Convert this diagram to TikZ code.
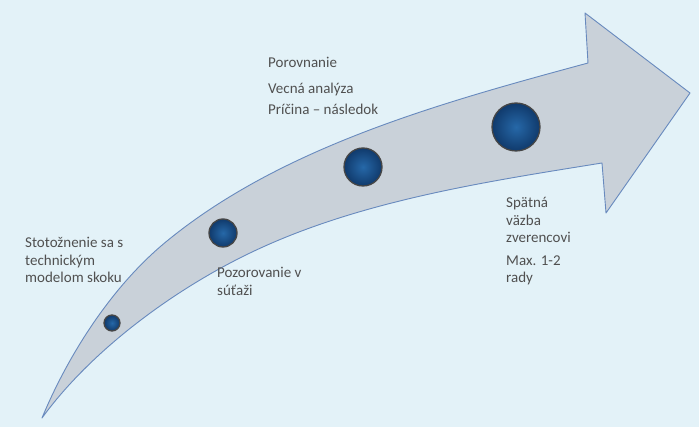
\documentclass[tikz,border=0pt]{standalone}
\usepackage{fontspec}
\setmainfont{Carlito}
\usepackage{tikz}
\usetikzlibrary{positioning}
\definecolor{bgblue}{RGB}{227,242,248}
\definecolor{arrowfill}{RGB}{201,209,217}
\definecolor{arrowline}{RGB}{104,138,190}
\definecolor{pearlin}{RGB}{38,104,168}
\definecolor{pearlout}{RGB}{16,58,108}
\definecolor{txtgray}{RGB}{80,80,80}
\begin{document}
\begin{tikzpicture}[x=1pt,y=-1pt,
  pearl/.style={circle,draw=gray!55!black,line width=1.3pt,inner sep=0pt,
    shade,inner color=pearlin,outer color=pearlout},
  lab/.style={font=\fontsize{15}{17.5}\selectfont,text=txtgray,align=left,
    anchor=base west,inner sep=0pt}]
 \fill[bgblue] (0,0) rectangle (699,427);
 \useasboundingbox (0,0) rectangle (699,427);
 \filldraw[fill=arrowfill,draw=arrowline,line width=0.9pt,line join=round]
   (42,418) .. controls (69,353) and (113,285) .. (167,241)
   .. controls (283,146) and (444,102) .. (588,63)
   -- (585,13) -- (690,93) -- (606,213) -- (602,163)
   .. controls (484,182) and (358,201) .. (250,253)
   .. controls (171,291) and (90,352) .. (42,418) -- cycle;
 \node[pearl,minimum size=16pt] (p1) at (112,323) {};
 \node[pearl,minimum size=28pt] (p2) at (223,233) {};
 \node[pearl,minimum size=38pt] (p3) at (363,167) {};
 \node[pearl,minimum size=48pt] (p4) at (516,127) {};
 \node[lab] (stotoz) at (25,283) {Stotožnenie sa s\\technickým\\modelom skoku};
 \node[lab] (pozor) at (217,295.5) {Pozorovanie v\\súťaži};
 \node[lab] (porov) at (268,115) {Porovnanie\\[8pt]Vecná analýza\\[4pt]Príčina – následok};
 \node[lab] (spatna) at (506,283) {Spätná\\väzba\\zverencovi\\[5pt]Max. 1-2\\rady};
\end{tikzpicture}
\end{document}
